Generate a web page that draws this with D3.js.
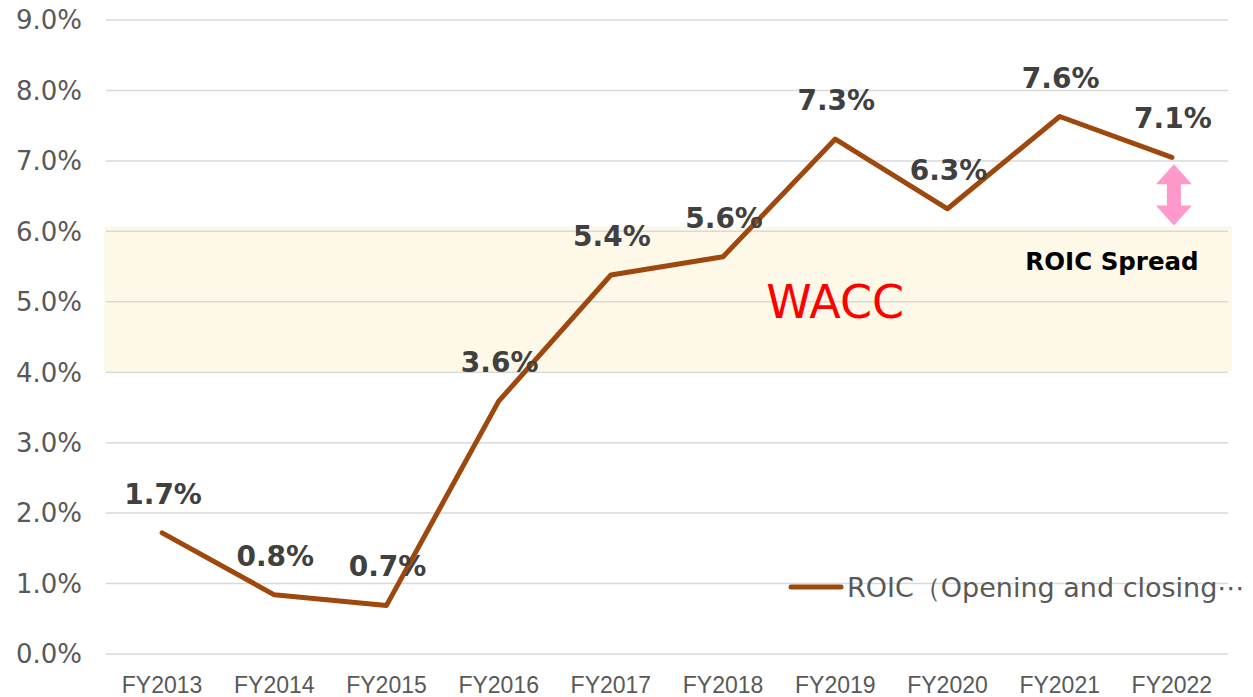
<!DOCTYPE html>
<html>
<head>
<meta charset="utf-8">
<script src="https://cdn.jsdelivr.net/npm/d3@7"></script>
<style>
  body { margin: 0; background: #fff; }
  svg { display: block; }
</style>
</head>
<body>
<div id="chart"></div>
<script>
// Data
const years = ["FY2013", "FY2014", "FY2015", "FY2016", "FY2017", "FY2018", "FY2019", "FY2020", "FY2021", "FY2022"];
const roic = [1.72, 0.84, 0.69, 3.59, 5.38, 5.64, 7.31, 6.32, 7.63, 7.05];
const roicLabels = ["1.7%", "0.8%", "0.7%", "3.6%", "5.4%", "5.6%", "7.3%", "6.3%", "7.6%", "7.1%"];
const yTicks = [0, 1, 2, 3, 4, 5, 6, 7, 8, 9];
const waccBand = [4.0, 6.07];
const seriesName = "ROIC（Opening and closing average）";

const width = 1253;
const height = 697;
const margin = { top: 20, right: 25, bottom: 43, left: 106 };

const svg = d3.select("#chart")
  .append("svg")
  .attr("width", width)
  .attr("height", height);

const x = d3.scaleBand()
  .domain(years)
  .range([margin.left, width - margin.right]);

const y = d3.scaleLinear()
  .domain([0, 9])
  .range([height - margin.bottom, margin.top]);

const cx = d => x(d) + x.bandwidth() / 2;

// WACC band
svg.append("rect")
  .attr("x", margin.left - 2)
  .attr("y", y(waccBand[1]))
  .attr("width", width - margin.right - margin.left + 6)
  .attr("height", y(waccBand[0]) - y(waccBand[1]) - 1)
  .attr("fill", "#fef8e9");

// gridlines
svg.append("g")
  .selectAll("line")
  .data(yTicks)
  .join("line")
  .attr("x1", margin.left)
  .attr("x2", width - margin.right)
  .attr("y1", d => y(d))
  .attr("y2", d => y(d))
  .attr("stroke", "#d9d9d9")
  .attr("stroke-width", 1.5);

// y tick labels
svg.append("g")
  .selectAll("text")
  .data(yTicks)
  .join("text")
  .attr("x", 82)
  .attr("y", d => y(d))
  .attr("dy", "0.36em")
  .attr("text-anchor", "end")
  .style("font-family", "DejaVu Sans, sans-serif")
  .style("font-size", "26px")
  .attr("fill", "#595959")
  .text(d => d.toFixed(1) + "%");

// x tick labels
svg.append("g")
  .selectAll("text")
  .data(years)
  .join("text")
  .attr("x", d => cx(d))
  .attr("y", 693)
  .attr("text-anchor", "middle")
  .style("font-family", "Liberation Sans, Arial, sans-serif")
  .style("font-size", "23px")
  .attr("fill", "#595959")
  .text(d => d);

// WACC label
svg.append("text")
  .attr("x", cx("FY2019"))
  .attr("y", 318)
  .attr("text-anchor", "middle")
  .style("font-family", "DejaVu Sans, sans-serif")
  .style("font-size", "46px")
  .attr("fill", "#ff0000")
  .text("WACC");

// ROIC spread arrow
const ax = cx("FY2022") + 2;
const ay1 = y(roic[9]) + 7;
const ay2 = y(waccBand[1]) - 1;
const headH = 20, headW = 18, shaftW = 7;
svg.append("path")
  .attr("d", [
    `M${ax},${ay1}`,
    `L${ax + headW},${ay1 + headH}`,
    `L${ax + shaftW},${ay1 + headH}`,
    `L${ax + shaftW},${ay2 - headH}`,
    `L${ax + headW},${ay2 - headH}`,
    `L${ax},${ay2}`,
    `L${ax - headW},${ay2 - headH}`,
    `L${ax - shaftW},${ay2 - headH}`,
    `L${ax - shaftW},${ay1 + headH}`,
    `L${ax - headW},${ay1 + headH}`,
    "Z"
  ].join(""))
  .attr("fill", "#ff99cc");

svg.append("text")
  .attr("x", 1112)
  .attr("y", 270)
  .attr("text-anchor", "middle")
  .style("font-family", "DejaVu Sans, sans-serif")
  .style("font-size", "24.5px")
  .style("font-weight", "bold")
  .attr("fill", "#000")
  .text("ROIC Spread");

// ROIC line
const line = d3.line()
  .x((d, i) => cx(years[i]))
  .y(d => y(d));

svg.append("path")
  .datum(roic)
  .attr("d", line)
  .attr("fill", "none")
  .attr("stroke", "#9e480e")
  .attr("stroke-width", 5)
  .attr("stroke-linejoin", "round")
  .attr("stroke-linecap", "round");

// data labels
svg.append("g")
  .selectAll("text")
  .data(roic)
  .join("text")
  .attr("x", (d, i) => cx(years[i]) + 1)
  .attr("y", d => y(d) - 29)
  .attr("text-anchor", "middle")
  .style("font-family", "DejaVu Sans, sans-serif")
  .style("font-size", "28px")
  .style("font-weight", "bold")
  .attr("fill", "#404040")
  .text((d, i) => roicLabels[i]);

// legend
const legend = svg.append("g");
legend.append("line")
  .attr("x1", 791)
  .attr("x2", 841)
  .attr("y1", 587)
  .attr("y2", 587)
  .attr("stroke", "#9e480e")
  .attr("stroke-width", 5)
  .attr("stroke-linecap", "round");

const legendText = legend.append("text")
  .attr("x", 847)
  .attr("y", 597)
  .style("font-family", "DejaVu Sans, sans-serif")
  .style("font-size", "27px")
  .attr("fill", "#595959")
  .text(seriesName);

// truncate legend text at a word boundary to fit the window, like the original
const maxW = width - 4 - 847;
const words = seriesName.split(" ");
while (legendText.node().getComputedTextLength() > maxW && words.length > 1) {
  words.pop();
  legendText.text(words.join(" ") + "⋯");
}
</script>
</body>
</html>
